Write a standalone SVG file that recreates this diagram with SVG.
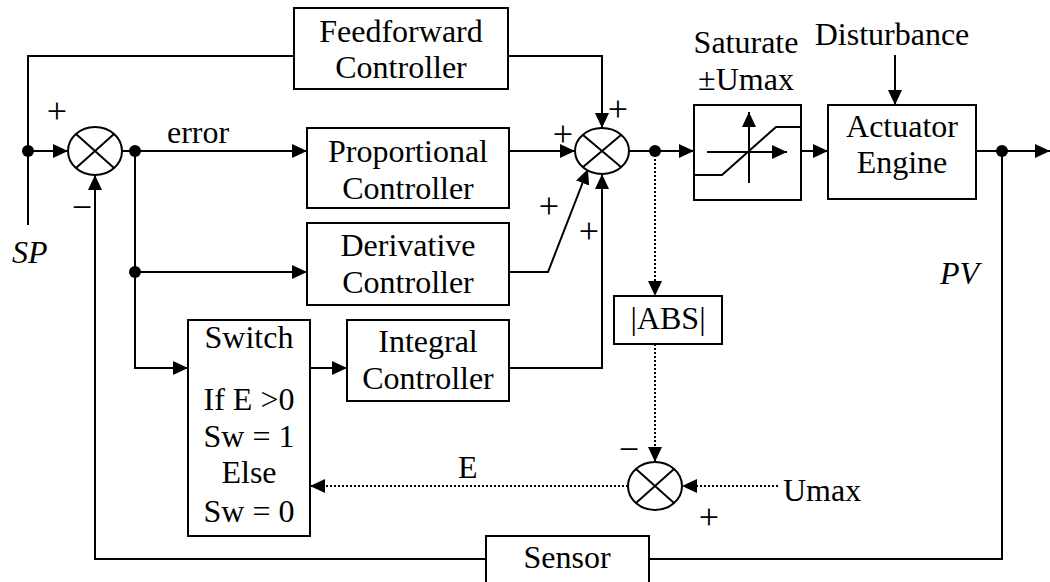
<svg xmlns="http://www.w3.org/2000/svg" width="1050" height="582" viewBox="0 0 1050 582">
<defs>
<marker id="ah" markerUnits="userSpaceOnUse" markerWidth="16" markerHeight="14" refX="15" refY="7" orient="auto">
<path d="M0,0 L15,7 L0,14 z" fill="#000"/>
</marker>
<style>
.ln{fill:none;stroke:#000;stroke-width:2}
.dt{fill:none;stroke:#000;stroke-width:2;stroke-dasharray:2,2}
.bx{fill:#fff;stroke:#000;stroke-width:2}
.t{font-family:"Liberation Serif","Times New Roman",serif;font-size:32px;fill:#000}
.c{text-anchor:middle}
.i{font-style:italic}
.s{font-family:"Liberation Serif","Times New Roman",serif;font-size:36px;fill:#000;text-anchor:middle}
</style>
</defs>
<rect width="1050" height="582" fill="#fff"/>
<g id="connectors">
<path class="ln" d="M28,225 L28,56 L294,56"/>
<path class="ln" d="M28,151 L68,151" marker-end="url(#ah)"/>
<path class="ln" d="M122,151 L307,151" marker-end="url(#ah)"/>
<path class="ln" d="M135,151 L135,368 L188,368" marker-end="url(#ah)"/>
<path class="ln" d="M135,272 L307,272" marker-end="url(#ah)"/>
<path class="ln" d="M508,56 L602,56 L602,128" marker-end="url(#ah)"/>
<path class="ln" d="M509,151 L575,151" marker-end="url(#ah)"/>
<path class="ln" d="M509,272 L548,272 L588,169" marker-end="url(#ah)"/>
<path class="ln" d="M509,368 L602,368 L602,174" marker-end="url(#ah)"/>
<path class="ln" d="M310,368 L347,368" marker-end="url(#ah)"/>
<path class="ln" d="M629,151 L694,151" marker-end="url(#ah)"/>
<path class="dt" d="M655,151 L655,296" marker-end="url(#ah)"/>
<path class="dt" d="M655,344 L655,462" marker-end="url(#ah)"/>
<path class="dt" d="M778,486 L682,486" marker-end="url(#ah)"/>
<path class="dt" d="M628,486 L310,486" marker-end="url(#ah)"/>
<path class="ln" d="M801,151 L828,151" marker-end="url(#ah)"/>
<path class="ln" d="M976,151 L1050,151" marker-end="url(#ah)"/>
<path class="ln" d="M895,55 L895,105" marker-end="url(#ah)"/>
<path class="ln" d="M1002,151 L1002,559 L649,559"/>
<path class="ln" d="M486,559 L95,559 L95,175" marker-end="url(#ah)"/>
<circle cx="28" cy="151" r="6"/>
<circle cx="135" cy="151" r="6"/>
<circle cx="135" cy="272" r="6"/>
<circle cx="655" cy="151" r="6"/>
<circle cx="1002" cy="151" r="6"/>
</g>
<g id="sum1">
<ellipse class="bx" cx="95" cy="151" rx="27" ry="24"/>
<path class="ln" d="M76,134 L114,168 M114,134 L76,168"/>
</g>
<g id="sum2">
<ellipse class="bx" cx="602" cy="151" rx="27" ry="23"/>
<path class="ln" d="M583,135 L621,167 M621,135 L583,167"/>
</g>
<g id="sum3">
<ellipse class="bx" cx="655" cy="486" rx="27" ry="24"/>
<path class="ln" d="M636,469 L674,503 M674,469 L636,503"/>
</g>
<g id="feedforward">
<rect class="bx" x="294" y="8" width="214" height="81"/>
<text class="t c" x="401" y="42">Feedforward</text>
<text class="t c" x="401" y="78">Controller</text>
</g>
<g id="proportional">
<rect class="bx" x="307" y="128" width="202" height="80"/>
<text class="t c" x="408" y="162">Proportional</text>
<text class="t c" x="408" y="199">Controller</text>
</g>
<g id="derivative">
<rect class="bx" x="307" y="223" width="202" height="82"/>
<text class="t c" x="408" y="256">Derivative</text>
<text class="t c" x="408" y="293">Controller</text>
</g>
<g id="integral">
<rect class="bx" x="347" y="320" width="162" height="81"/>
<text class="t c" x="428" y="352">Integral</text>
<text class="t c" x="428" y="389">Controller</text>
</g>
<g id="switch">
<rect class="bx" x="188" y="320" width="122" height="216"/>
<text class="t c" x="249" y="348">Switch</text>
<text class="t c" x="249" y="410">If E &gt;0</text>
<text class="t c" x="249" y="447">Sw = 1</text>
<text class="t c" x="249" y="483">Else</text>
<text class="t c" x="249" y="522">Sw = 0</text>
</g>
<g id="abs">
<rect class="bx" x="614" y="296" width="108" height="48"/>
<text class="t c" x="668" y="329">|ABS|</text>
</g>
<g id="saturate">
<text class="t c" x="746" y="53">Saturate</text>
<text class="t c" x="746" y="90">±Umax</text>
<rect class="bx" x="694" y="105" width="107" height="95"/>
<path class="ln" d="M749,183 L749,112" marker-end="url(#ah)"/>
<path class="ln" d="M707,152 L787,152" marker-end="url(#ah)"/>
<path class="ln" d="M694,175 L722,175 L776,127 L801,127"/>
</g>
<g id="actuator">
<text class="t c" x="892" y="45">Disturbance</text>
<rect class="bx" x="828" y="105" width="148" height="94"/>
<text class="t c" x="902" y="137">Actuator</text>
<text class="t c" x="902" y="173">Engine</text>
</g>
<g id="sensor">
<rect class="bx" x="486" y="536" width="163" height="60"/>
<text class="t c" x="567" y="568">Sensor</text>
</g>
<g id="labels">
<text class="t" x="167" y="143">error</text>
<text class="t i" x="12" y="263">SP</text>
<text class="t i" x="940" y="284">PV</text>
<text class="t" x="458" y="478">E</text>
<text class="t" x="783" y="501">Umax</text>
<text class="s" x="57" y="123">+</text>
<text class="s" x="82" y="219">−</text>
<text class="s" x="563" y="146">+</text>
<text class="s" x="618" y="121">+</text>
<text class="s" x="549" y="218">+</text>
<text class="s" x="589" y="243">+</text>
<text class="s" x="629" y="461">−</text>
<text class="s" x="709" y="529">+</text>
</g>
</svg>
